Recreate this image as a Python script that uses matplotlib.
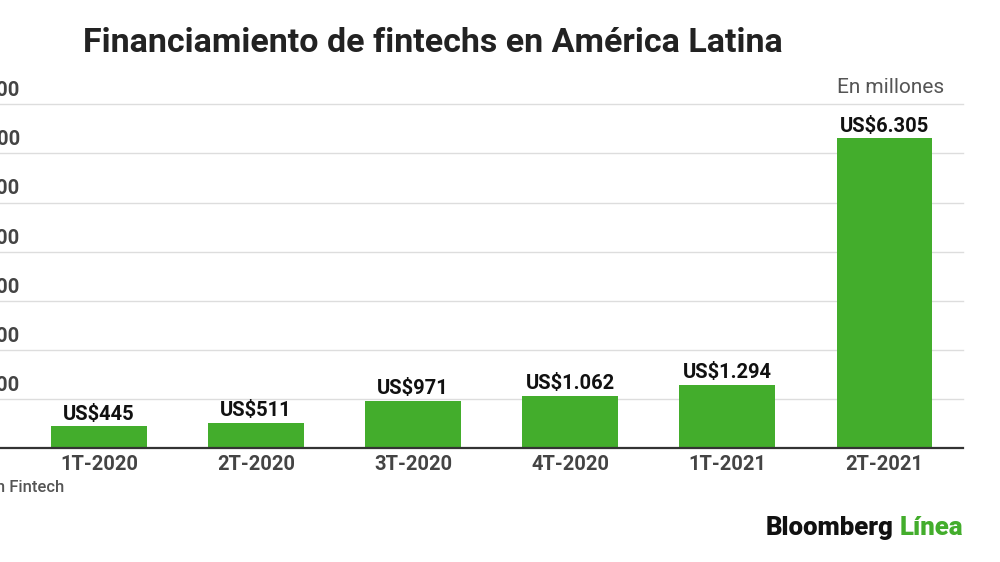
import matplotlib
matplotlib.use("Agg")
import matplotlib.pyplot as plt
import numpy as np

plt.rcParams['font.family'] = ['Roboto', 'DejaVu Sans']

categories = ["1T-2020", "2T-2020", "3T-2020", "4T-2020", "1T-2021", "2T-2021"]
values = [445, 511, 971, 1062, 1294, 6305]
value_labels = ["US$445", "US$511", "US$971", "US$1.062", "US$1.294", "US$6.305"]
yticks = [1000, 2000, 3000, 4000, 5000, 6000, 7000]
ytick_labels = ["1.000", "2.000", "3.000", "4.000", "5.000", "6.000", "7.000"]

W, H = 1000, 562
fig = plt.figure(figsize=(10, 5.62), dpi=100)
fig.patch.set_facecolor("white")

ax_left = 0 / W
ax_right = 963 / W
ax_bottom = 1 - 448.3 / H
ax_top = 1 - 104.3 / H
ax = fig.add_axes([ax_left, ax_bottom, ax_right - ax_left, ax_top - ax_bottom])

x = np.arange(len(categories))
green = "#43ad2c"
ax.bar(x, values, width=0.61, color=green, zorder=3)
ax.set_xlim(-0.63, 5.5)
ax.set_ylim(0, 7000)

for yv in yticks:
    ax.axhline(yv, color="#dddddd", lw=1.0, zorder=1, clip_on=False)
ax.axhline(0, color="#333333", lw=1.6, zorder=4, clip_on=False)

for s in ax.spines.values():
    s.set_visible(False)
ax.set_yticks([])
ax.set_xticks(x)
ax.set_xticklabels(categories, fontsize=14.5, color="#444444", fontweight="semibold")
ax.tick_params(axis="x", length=0, pad=5)

for xi, v, lab in zip(x, values, value_labels):
    ax.annotate(lab, (xi, v), xytext=(0, 2), textcoords="offset points",
                ha="center", va="bottom", fontsize=14.5, fontweight="bold", color="#111111")

# y tick labels (cropped at left edge of image)
for yv, lab in zip(yticks, ytick_labels):
    ax.annotate(lab, xy=(0, yv), xycoords=("figure pixels", "data"),
                xytext=(20 * 0.72, 3), textcoords="offset points",
                ha="right", va="bottom", fontsize=14.5, color="#444444",
                fontweight="semibold", annotation_clip=False)

fig.text(83 / W, 1 - 43 / H, "Financiamiento de fintechs en América Latina",
         fontsize=24.5, fontweight="bold", color="#222222", ha="left", va="center")
fig.text(944 / W, 1 - 88 / H, "En millones", fontsize=15, color="#555555",
         ha="right", va="center")
fig.text(64 / W, 1 - 487 / H, "Fuente: Latin American Fintech", fontsize=12,
         color="#555555", fontweight="medium", ha="right", va="center")

t1 = fig.text(766 / W, 1 - 528 / H, "Bloomberg", fontsize=18.5, fontweight="heavy",
              color="#111111", ha="left", va="center")
fig.canvas.draw()
bb = t1.get_window_extent()
fig.text((bb.x1 + 6) / W, 1 - 528 / H, "Línea", fontsize=18.5, fontweight="heavy",
         color=green, ha="left", va="center")

fig.savefig("out.png", dpi=100, facecolor="white")
